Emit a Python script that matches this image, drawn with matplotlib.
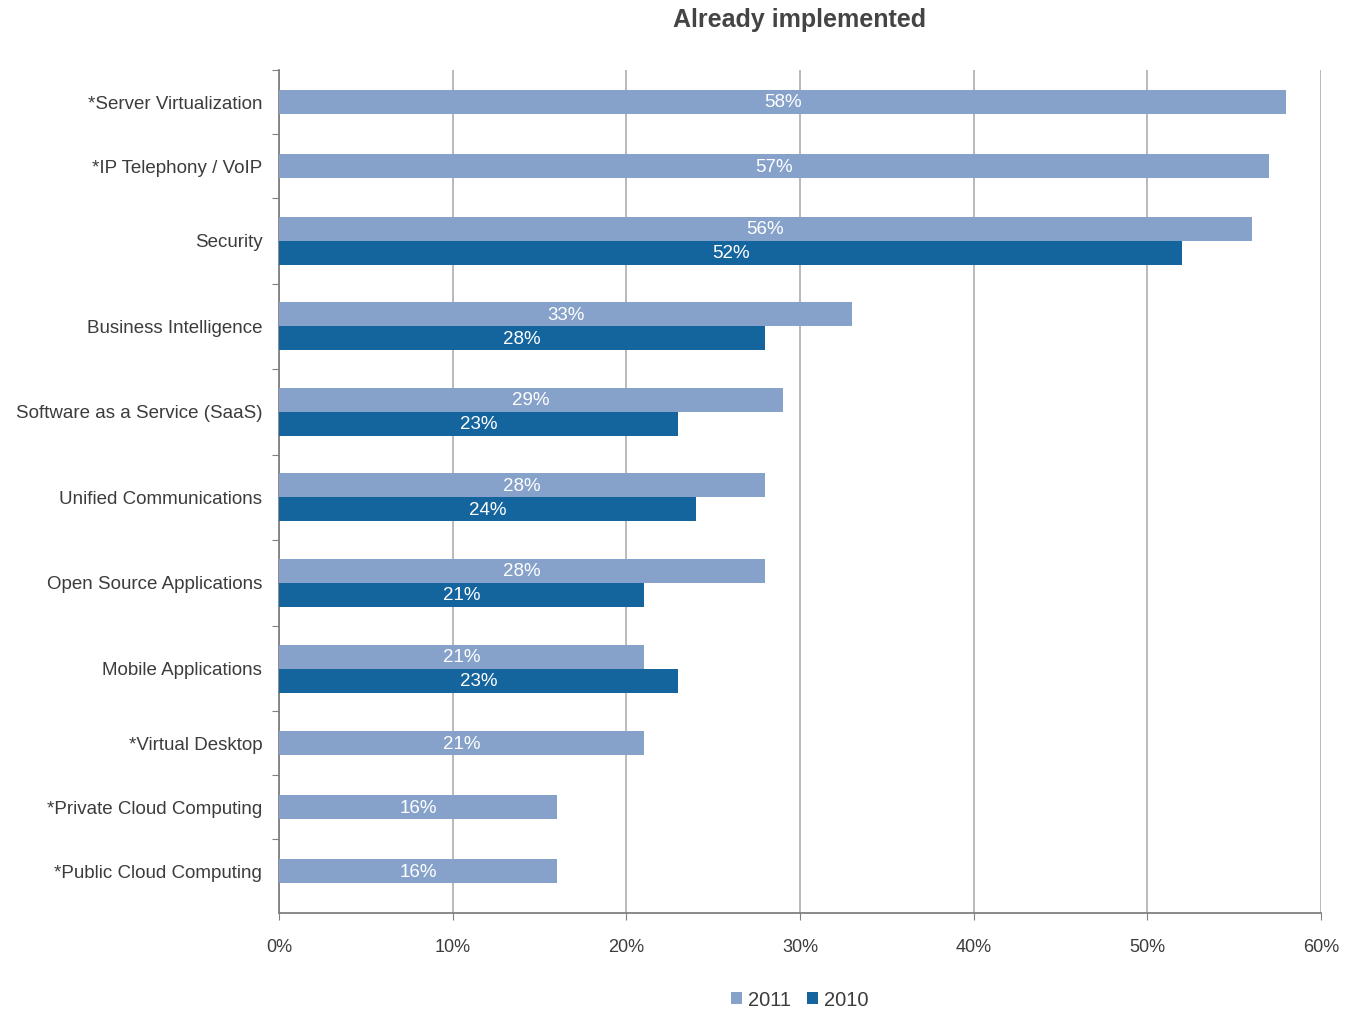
import matplotlib
matplotlib.use("Agg")
import matplotlib.pyplot as plt
from matplotlib.patches import Patch

plt.rcParams['font.family'] = ['Liberation Sans', 'DejaVu Sans']

categories = [
    "*Server Virtualization",
    "*IP Telephony / VoIP",
    "Security",
    "Business Intelligence",
    "Software as a Service (SaaS)",
    "Unified Communications",
    "Open Source Applications",
    "Mobile Applications",
    "*Virtual Desktop",
    "*Private Cloud Computing",
    "*Public Cloud Computing",
]
values_2011 = [58, 57, 56, 33, 29, 28, 28, 21, 21, 16, 16]
values_2010 = [None, None, 52, 28, 23, 24, 21, 23, None, None, None]
x_ticks = [0, 10, 20, 30, 40, 50, 60]
x_tick_labels = ["0%", "10%", "20%", "30%", "40%", "50%", "60%"]

COLOR_2011 = "#86a2ca"
COLOR_2010 = "#14649e"
TEXT = "#3c3c3c"
GRID = "#b4b4b4"
BAR_H = 0.375
ROW_H = {1: 1.0, 2: 1.336}
BOTTOM_PAD = 0.15

fig = plt.figure(figsize=(13.56, 10.13), dpi=100)
ax = fig.add_axes([279 / 1356, 1 - 913 / 1013, (1321 - 279) / 1356, (913 - 70) / 1013])

boundaries = [0.0]
centers = []
y = 0.0
for v11, v10 in zip(values_2011, values_2010):
    series = [(v11, COLOR_2011)]
    if v10 is not None:
        series.append((v10, COLOR_2010))
    h = ROW_H[len(series)]
    c = y + h / 2
    centers.append(c)
    start = c - BAR_H * len(series) / 2
    for i, (v, col) in enumerate(series):
        yc = start + BAR_H * (i + 0.5)
        ax.barh(yc, v, height=BAR_H, color=col, edgecolor="none", zorder=3)
        ax.text(v / 2, yc + 0.015, f"{v}%", ha="center", va="center", color="white",
                fontsize=13.5, zorder=4)
    y += h
    boundaries.append(y)

ax.set_ylim(y + BOTTOM_PAD, 0)
ax.set_xlim(0, 60)

ax.set_yticks(boundaries[:-1])
ax.set_yticklabels([])
ax.set_yticks(centers, minor=True)
ax.set_yticklabels(categories, minor=True, fontsize=13.5, color=TEXT, va="center_baseline")
ax.tick_params(axis="y", which="major", length=5, direction="out", color="#808080")
ax.tick_params(axis="y", which="minor", length=0, pad=12)

ax.set_xticks(x_ticks)
ax.set_xticklabels(x_tick_labels, fontsize=13, color=TEXT)
ax.tick_params(axis="x", length=5, direction="out", color="#808080", pad=14)
ax.xaxis.grid(True, color=GRID, linewidth=1.3, zorder=0)
ax.set_axisbelow(True)

for side in ["top", "right"]:
    ax.spines[side].set_visible(False)
for side in ["left", "bottom"]:
    ax.spines[side].set_color("#808080")
    ax.spines[side].set_linewidth(1.3)

fig.text(800 / 1356, 1 - 20 / 1013, "Already implemented", ha="center", va="center",
         fontsize=18, fontweight="bold", color="#444444")

handles = [Patch(facecolor=COLOR_2011, label="2011"), Patch(facecolor=COLOR_2010, label="2010")]
fig.legend(handles=handles, loc="center", bbox_to_anchor=(800 / 1356, 1 - 1000 / 1013),
           ncol=2, frameon=False, fontsize=14.5, handlelength=0.55, handleheight=0.55,
           handletextpad=0.3, columnspacing=0.8, labelcolor=TEXT)

fig.savefig("out.png", dpi=100, facecolor="white")
